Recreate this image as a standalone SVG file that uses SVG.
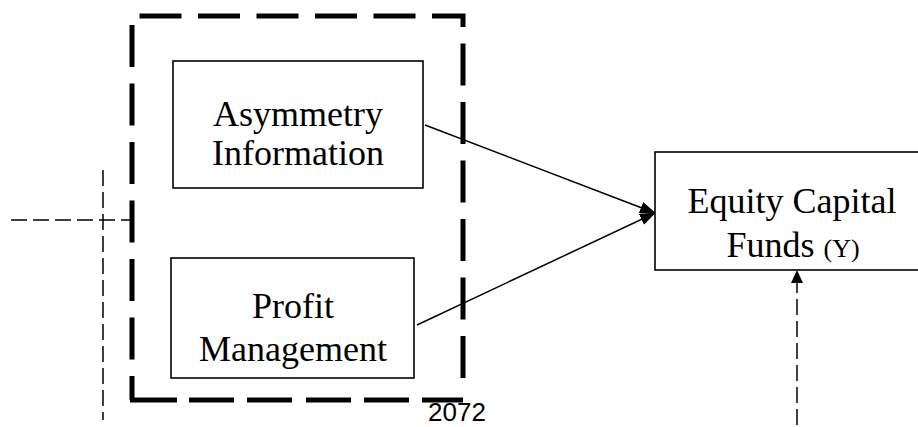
<svg xmlns="http://www.w3.org/2000/svg" width="918" height="427" viewBox="0 0 918 427">
<style>
.box{fill:#fff;stroke:#000;stroke-width:1.6}
.lbl{font-family:"Liberation Serif","Times New Roman",serif;font-size:36px;fill:#000;text-anchor:middle}
.thin{fill:none;stroke:#000;stroke-width:1.5}
.dash{fill:none;stroke:#000;stroke-width:1.5;stroke-dasharray:16 6}
.big{fill:none;stroke:#000;stroke-width:5}
</style>
<defs>
<marker id="ah" viewBox="0 0 16 12" refX="15" refY="6" markerWidth="16" markerHeight="12" markerUnits="userSpaceOnUse" orient="auto">
<path d="M0,0 L16,6 L0,12 Z" fill="#000"/>
</marker>
</defs>
<rect width="918" height="427" fill="#fff"/>
<g id="group-frame">
<path class="big" d="M132,400 V16 H463 V392" stroke-dasharray="42 16.5" stroke-dashoffset="18"/>
<path class="big" d="M130,400 H463" stroke-dasharray="47 12 45 13 45 14 45 13 45 13"/>
</g>
<g id="connectors">
<path class="dash" d="M11,220 H132"/>
<path class="dash" d="M103,170 V420"/>
<path class="thin" d="M425,125 L655,213" marker-end="url(#ah)"/>
<path class="thin" d="M417,325 L655,213" marker-end="url(#ah)"/>
<path class="dash" d="M797,425 V282"/>
<path d="M797,270 L791,283 L803,283 Z" fill="#000"/>
</g>
<g id="node-asymmetry">
<rect class="box" x="173" y="61" width="250" height="127"/>
<text class="lbl" x="298" y="126">Asymmetry</text>
<text class="lbl" x="298" y="165">Information</text>
</g>
<g id="node-profit">
<rect class="box" x="171" y="258" width="243" height="120"/>
<text class="lbl" x="293" y="318">Profit</text>
<text class="lbl" x="293" y="361">Management</text>
</g>
<g id="node-equity">
<rect class="box" x="655" y="152" width="280" height="118"/>
<text class="lbl" x="792" y="213">Equity Capital</text>
<text class="lbl" x="793" y="257">Funds <tspan font-size="26px">(Y)</tspan></text>
</g>
<text x="428" y="421" font-family="Liberation Sans, Arial, sans-serif" font-size="26px" fill="#000">2072</text>
</svg>
